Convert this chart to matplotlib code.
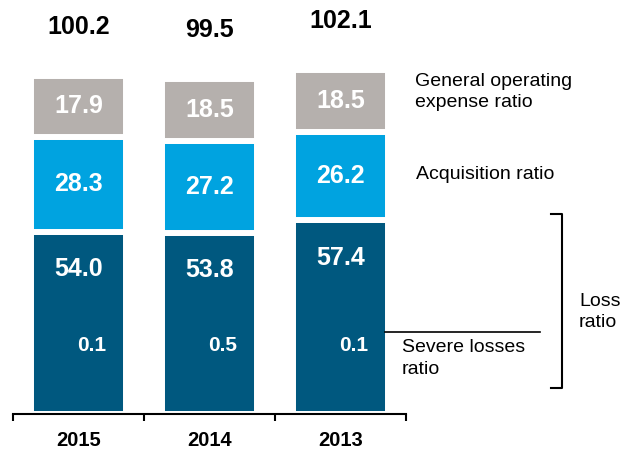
import numpy as np
import matplotlib
matplotlib.use('Agg')
import matplotlib.pyplot as plt

plt.rcParams['font.family'] = ['Liberation Sans', 'DejaVu Sans']

# data
years    = ['2015', '2014', '2013']
loss     = [54.0, 53.8, 57.4]
acq      = [28.3, 27.2, 26.2]
genop    = [17.9, 18.5, 18.5]
severe   = [0.1, 0.5, 0.1]
combined = [100.2, 99.5, 102.1]

cDark = '#00587F'
cBlue = '#00A3E0'
cGray = '#B5B0AD'

fig = plt.figure(figsize=(6.23, 4.5), dpi=100)
ax  = fig.add_axes([13/623, 36/450, 393/623, 414/450])
x   = np.arange(len(years))
w   = 0.72
lw  = 4.3

loss_a = np.array(loss); acq_a = np.array(acq); gen_a = np.array(genop)
ax.bar(x, loss_a, w, color=cDark, edgecolor='white', linewidth=lw)
ax.bar(x, acq_a, w, bottom=loss_a, color=cBlue, edgecolor='white', linewidth=lw)
ax.bar(x, gen_a, w, bottom=loss_a+acq_a, color=cGray, edgecolor='white', linewidth=lw)

for i in range(len(years)):
    ax.text(x[i], loss[i]-11, '%.1f' % loss[i], ha='center', va='center',
            color='white', fontsize=18, fontweight='bold')
    ax.text(x[i], loss[i]+acq[i]/2, '%.1f' % acq[i], ha='center', va='center',
            color='white', fontsize=18, fontweight='bold')
    ax.text(x[i], loss[i]+acq[i]+genop[i]/2, '%.1f' % genop[i], ha='center',
            va='center', color='white', fontsize=18, fontweight='bold')
    ax.text(x[i]+0.1, 20.3, '%.1f' % severe[i], ha='center', va='center',
            color='white', fontsize=15, fontweight='bold')
    ax.text(x[i], combined[i]+14.5, '%.1f' % combined[i], ha='center',
            va='center', color='black', fontsize=18, fontweight='bold')

# right-hand legend notes
ax.text(2.57, 95.5, 'General operating\nexpense ratio', ha='left', va='center',
        fontsize=14, linespacing=1.3, clip_on=False)
ax.text(2.58, 70.9, 'Acquisition ratio', ha='left', va='center',
        fontsize=14, clip_on=False)
ax.text(2.47, 16.4, 'Severe losses\nratio', ha='left', va='center',
        fontsize=14, linespacing=1.35, clip_on=False)
ax.text(3.82, 30.3, 'Loss\nratio', ha='left', va='center',
        fontsize=14, linespacing=1.3, clip_on=False)
ax.plot([2.34, 3.52], [24.3, 24.3], color='black', lw=1.2, clip_on=False)
ax.plot([3.61, 3.69, 3.69, 3.61], [59.3, 59.3, 7.7, 7.7], color='black',
        lw=1.5, clip_on=False)

ax.set_xlim(-0.5, 2.5)
ax.set_ylim(0, 122.8)
for s in ['top', 'right', 'left']:
    ax.spines[s].set_visible(False)
ax.spines['bottom'].set_linewidth(1.5)
ax.set_yticks([])
ax.set_xticks(x)
ax.set_xticklabels(years, fontsize=14.5, fontweight='bold')
ax.tick_params(axis='x', which='major', length=0, pad=12)
ax.set_xticks([-0.5, 0.5, 1.5, 2.5], minor=True)
ax.tick_params(axis='x', which='minor', length=5, width=1.5, direction='out')

fig.savefig('out.png', dpi=100)
